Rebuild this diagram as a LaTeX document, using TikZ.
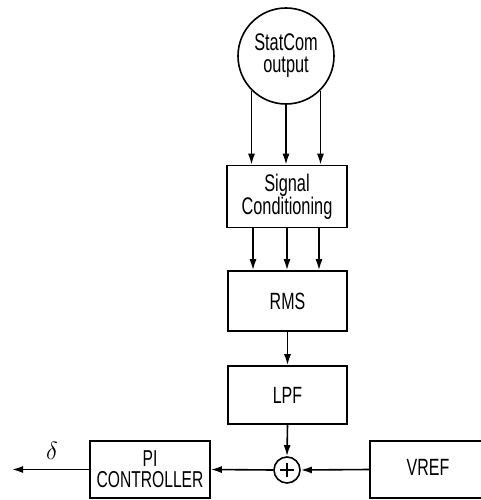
\documentclass[tikz,border=0pt]{standalone}
\usepackage{fontspec}
\setmainfont[FakeStretch=0.68]{Liberation Sans}
\usetikzlibrary{arrows.meta,calc}
\begin{document}
\begin{tikzpicture}[x=1pt,y=-1pt,
  lw/.style={line width=1.6pt},
  box/.style={draw,lw,rectangle,inner sep=0pt,align=center,font=\fontsize{23.5}{22}\selectfont},
  arr/.style={lw,-{Latex[length=11pt,width=7pt]}},
  lbl/.style={font=\fontsize{23.5}{22}\selectfont}]
\useasboundingbox (0,0) rectangle (480,500);
\node[draw,lw,circle,minimum size=96pt,inner sep=0pt,align=center,font=\fontsize{24}{22}\selectfont] (sc) at (286,56) {StatCom\\output};
\node[box,minimum width=120pt,minimum height=62pt,font=\fontsize{24}{20}\selectfont] (cond) at (287,196.5) {Signal\\Conditioning};
\node[box,minimum width=119pt,minimum height=60pt] (rms) at (287.5,301) {RMS};
\node[box,minimum width=119pt,minimum height=58pt] (lpf) at (287.5,395) {LPF};
\node[draw,lw,circle,minimum size=26pt,inner sep=0pt] (sum) at (287,470) {};
\draw[lw] ([xshift=-7pt]sum.center) -- ([xshift=7pt]sum.center);
\draw[lw] ([yshift=-7pt]sum.center) -- ([yshift=7pt]sum.center);
\node[box,minimum width=120pt,minimum height=57pt,font=\fontsize{23}{21}\selectfont] (pi) at (150,469.5) {PI\\CONTROLLER};
\node[box,minimum width=120pt,minimum height=57pt] (vref) at (430,469.5) {};
\node[lbl] (vreft) at (428,467) {VREF};
\coordinate (out) at (12,469.5);
\node[font=\fontsize{30}{30}\selectfont] (delta) at (52,451) {$\delta$};
% arrows
\draw[arr] (sc.-135) -- (sc.-135 |- cond.north);
\draw[arr] (sc.south) -- (sc.south |- cond.north);
\draw[arr] (sc.-45) -- (sc.-45 |- cond.north);
\draw[arr] ([xshift=-34pt]cond.south) -- ([xshift=-34.5pt]rms.north);
\draw[arr] (cond.south) -- ([xshift=-0.5pt]rms.north);
\draw[arr] ([xshift=32pt]cond.south) -- ([xshift=31.5pt]rms.north);
\draw[arr] (rms.south) -- (lpf.north);
\draw[arr] (lpf.south) -- (sum.north);
\draw[arr] (vref.west) -- (sum.east);
\draw[arr] (sum.west) -- (pi.east);
\draw[arr] (pi.west) -- (out);
\end{tikzpicture}
\end{document}
